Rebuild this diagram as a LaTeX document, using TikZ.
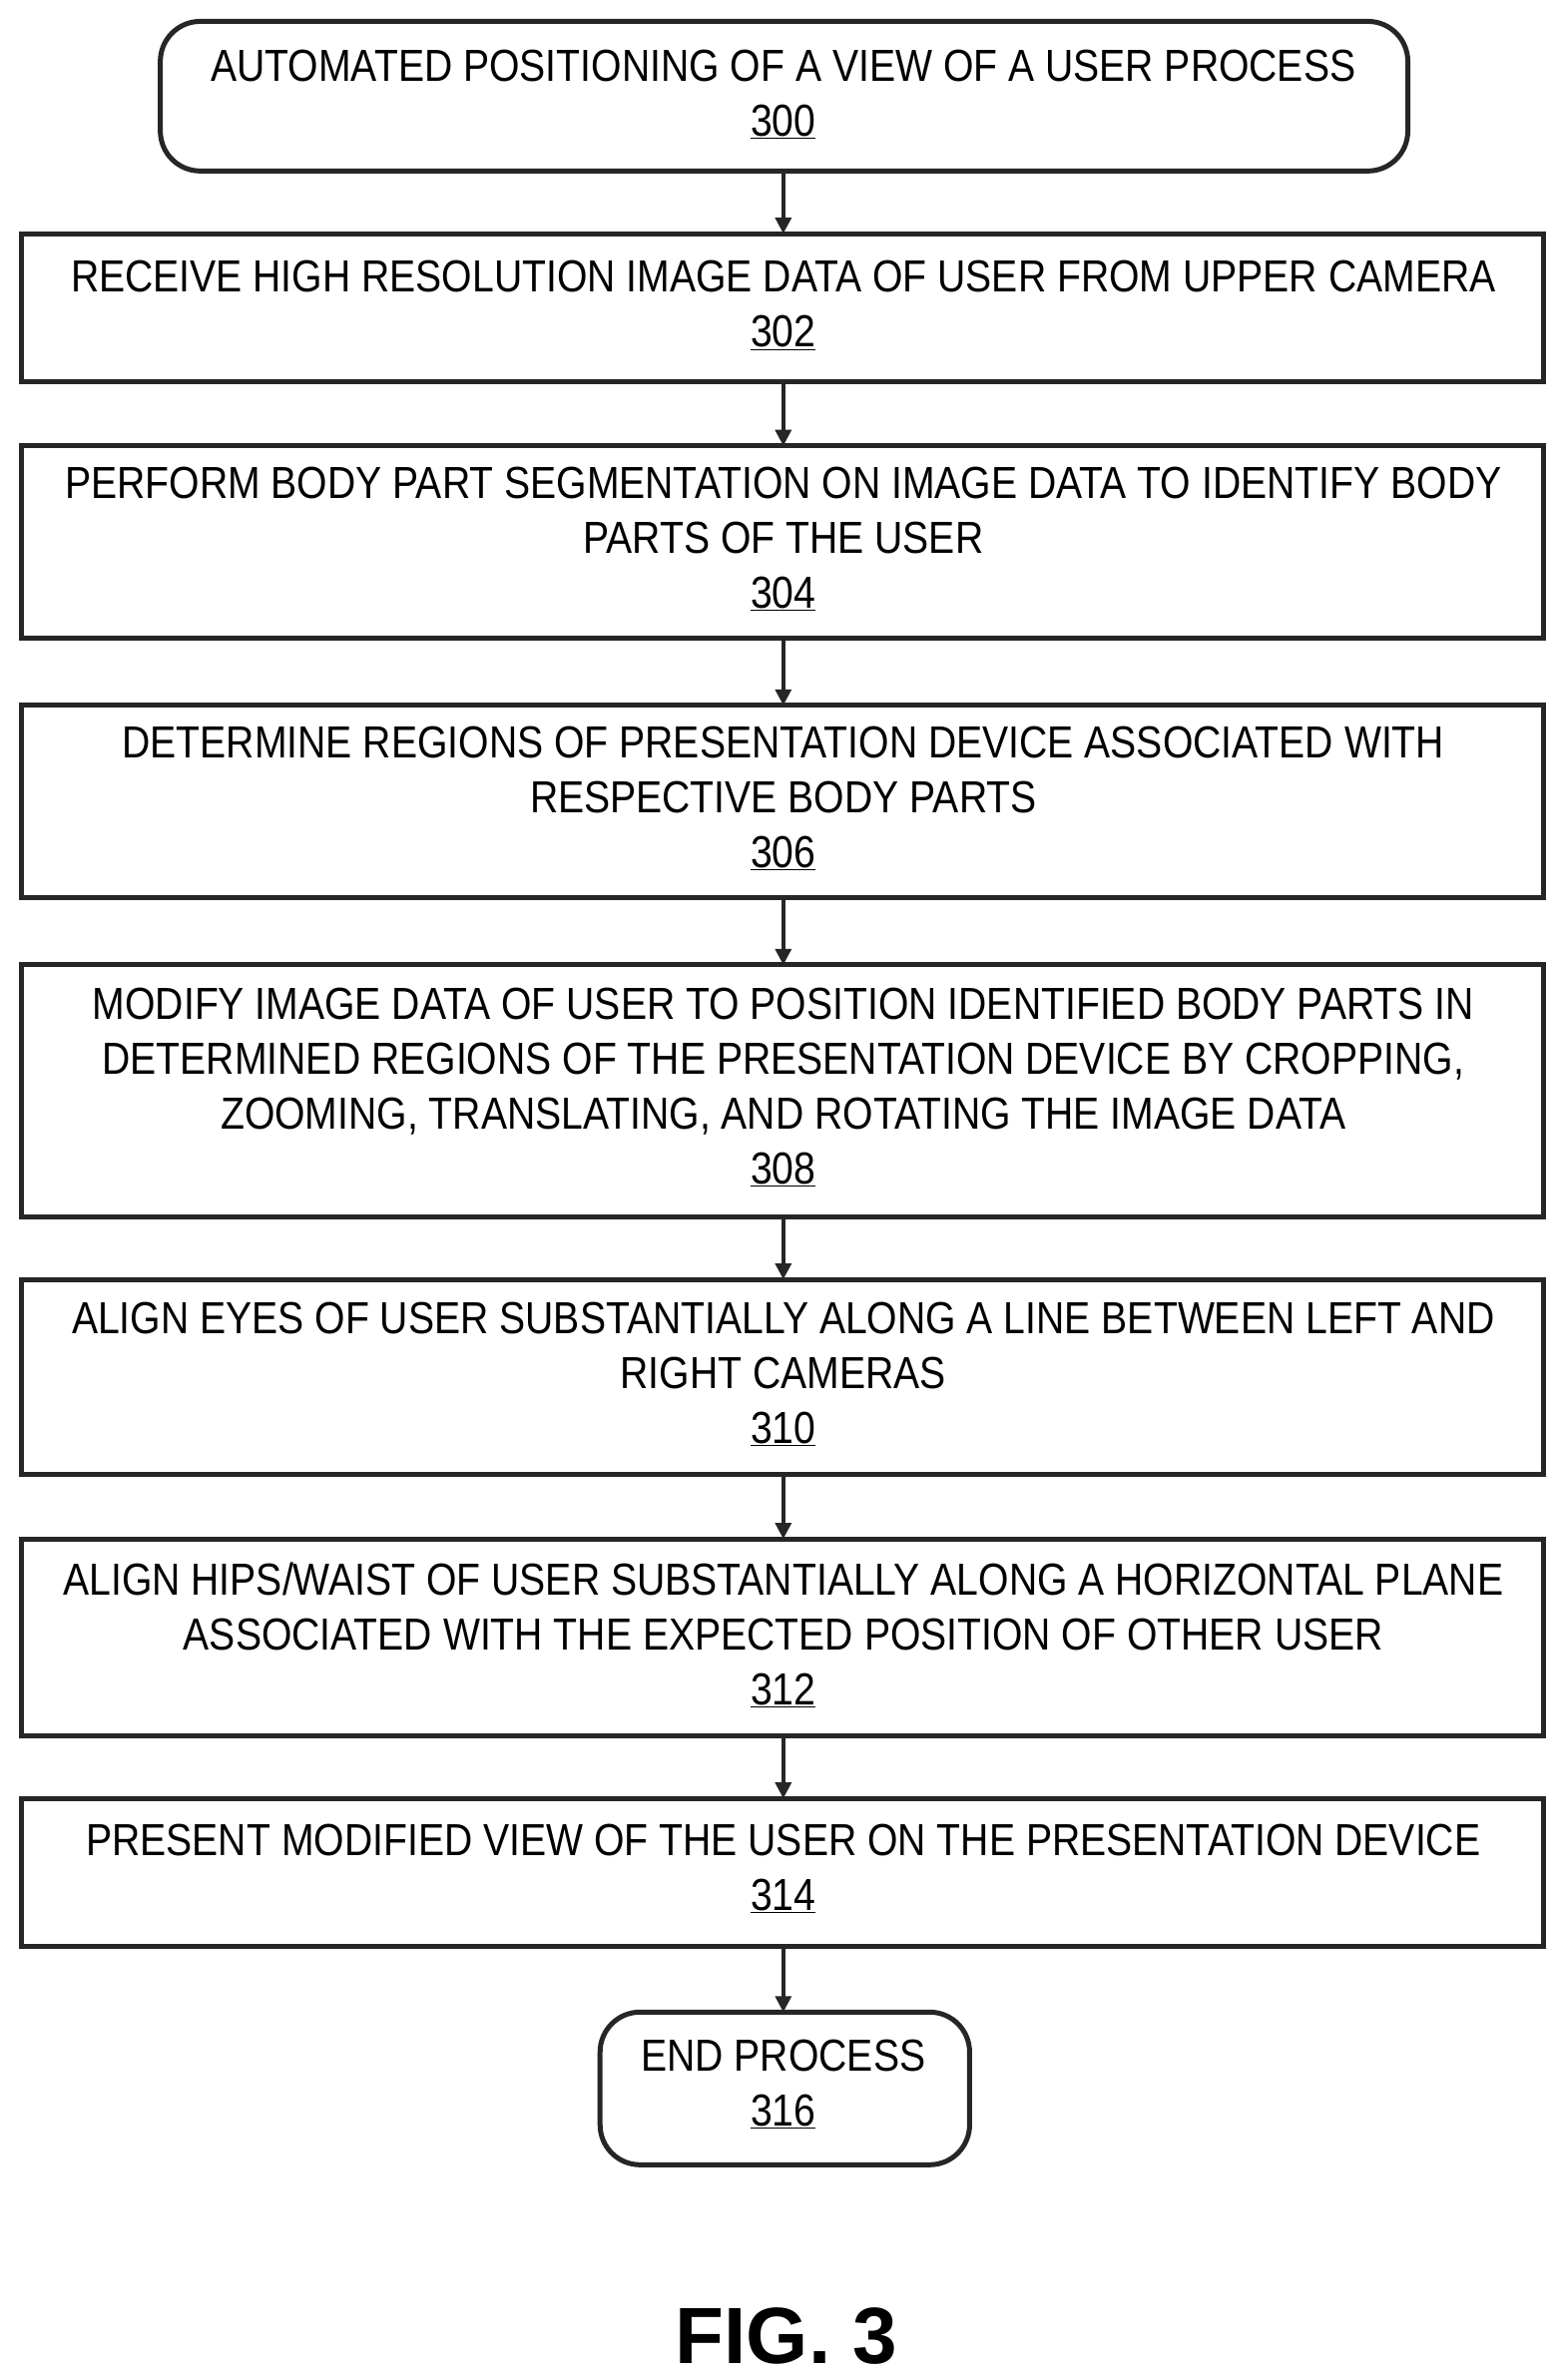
\documentclass[tikz,border=0pt]{standalone}
\usepackage{fontspec}
\setmainfont{Liberation Sans}[FakeStretch=0.87]
\newfontfamily\figfont{Liberation Sans}
\usetikzlibrary{arrows.meta}
\begin{document}
\begin{tikzpicture}[x=1.53pt,y=-1.53pt,
  box/.style={draw=black!85,line width=5pt,align=center,inner sep=0pt,font=\fontsize{45}{55}\selectfont},
  arr/.style={-{Triangle[length=16pt,width=16pt]},line width=3.5pt,draw=black!85}]
\useasboundingbox (0,0) rectangle (1024,1559);
\draw[box,rounded corners=40pt] (105,14) rectangle (922,112);
\node[box,draw=none] (n300) at (513,62) {AUTOMATED POSITIONING OF A VIEW OF A USER PROCESS\\\underline{300}};
\draw[box] (14,153) rectangle (1011,250);
\node[box,draw=none] (n302) at (513,200) {RECEIVE HIGH RESOLUTION IMAGE DATA OF USER FROM UPPER CAMERA\\\underline{302}};
\draw[box] (14,292) rectangle (1011,418);
\node[box,draw=none] (n304) at (513,353) {PERFORM BODY PART SEGMENTATION ON IMAGE DATA TO IDENTIFY BODY\\PARTS OF THE USER\\\underline{304}};
\draw[box] (14,462) rectangle (1011,588);
\node[box,draw=none] (n306) at (513,523) {DETERMINE REGIONS OF PRESENTATION DEVICE ASSOCIATED WITH\\RESPECTIVE BODY PARTS\\\underline{306}};
\draw[box] (14,632) rectangle (1011,797);
\node[box,draw=none] (n308) at (513,712) {MODIFY IMAGE DATA OF USER TO POSITION IDENTIFIED BODY PARTS IN\\DETERMINED REGIONS OF THE PRESENTATION DEVICE BY CROPPING,\\ZOOMING, TRANSLATING, AND ROTATING THE IMAGE DATA\\\underline{308}};
\draw[box] (14,838) rectangle (1011,966);
\node[box,draw=none] (n310) at (513,900) {ALIGN EYES OF USER SUBSTANTIALLY ALONG A LINE BETWEEN LEFT AND\\RIGHT CAMERAS\\\underline{310}};
\draw[box] (14,1008) rectangle (1011,1137);
\node[box,draw=none] (n312) at (513,1071) {ALIGN HIPS/WAIST OF USER SUBSTANTIALLY ALONG A HORIZONTAL PLANE\\ASSOCIATED WITH THE EXPECTED POSITION OF OTHER USER\\\underline{312}};
\draw[box] (14,1178) rectangle (1011,1275);
\node[box,draw=none] (n314) at (513,1224) {PRESENT MODIFIED VIEW OF THE USER ON THE PRESENTATION DEVICE\\\underline{314}};
\draw[box,rounded corners=40pt] (393,1318) rectangle (635,1418);
\node[box,draw=none] (n316) at (513,1365) {END PROCESS\\\underline{316}};
\coordinate (a0) at (513,112); \coordinate (b0) at (513,153);
\coordinate (a1) at (513,250); \coordinate (b1) at (513,292);
\coordinate (a2) at (513,418); \coordinate (b2) at (513,462);
\coordinate (a3) at (513,588); \coordinate (b3) at (513,632);
\coordinate (a4) at (513,797); \coordinate (b4) at (513,838);
\coordinate (a5) at (513,966); \coordinate (b5) at (513,1008);
\coordinate (a6) at (513,1137); \coordinate (b6) at (513,1178);
\coordinate (a7) at (513,1275); \coordinate (b7) at (513,1318);
\foreach \i in {0,...,7} \draw[arr] (a\i) -- (b\i);
\node[font=\figfont\bfseries\fontsize{80}{90}\selectfont] (fig) at (515,1530) {FIG. 3};
\end{tikzpicture}
\end{document}
